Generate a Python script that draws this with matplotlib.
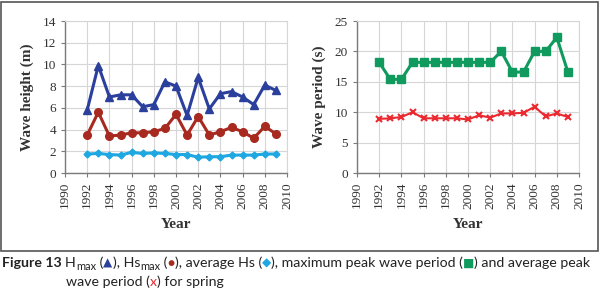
import matplotlib
matplotlib.use("Agg")
import matplotlib.pyplot as plt
from matplotlib.patches import Rectangle

years = list(range(1992, 2010))

# left panel: wave height (m)
h_max = [5.8, 9.9, 7.0, 7.2, 7.2, 6.1, 6.3, 8.4, 8.0, 5.3, 8.8, 5.9, 7.3, 7.5, 7.0, 6.3, 8.1, 7.6]
hs_max = [3.5, 5.6, 3.4, 3.5, 3.7, 3.7, 3.8, 4.1, 5.4, 3.5, 5.2, 3.5, 3.8, 4.2, 3.8, 3.2, 4.3, 3.6]
hs_avg = [1.75, 1.8, 1.7, 1.65, 1.9, 1.8, 1.85, 1.8, 1.7, 1.7, 1.45, 1.5, 1.5, 1.65, 1.65, 1.65, 1.75, 1.75]

# right panel: wave period (s)
tp_max = [18.2, 15.4, 15.4, 18.2, 18.2, 18.2, 18.2, 18.2, 18.2, 18.2, 18.2, 20.0, 16.6, 16.6, 20.0, 20.0, 22.3, 16.6]
tp_avg = [8.9, 9.0, 9.2, 10.0, 9.0, 9.0, 9.0, 9.0, 8.8, 9.5, 9.1, 9.8, 9.8, 9.9, 10.9, 9.3, 9.8, 9.2]

xticks = list(range(1990, 2011, 2))

c_blue = "#2b3f9c"
c_brown = "#a8291f"
c_cyan = "#1ea7e1"
c_green = "#109a5e"
c_red = "#ea2a30"

serif = "Liberation Serif"
fig = plt.figure(figsize=(6.02, 2.99), dpi=100)

W, H = 602.0, 299.0
ax1 = fig.add_axes([65 / W, 1 - 173 / H, 222 / W, 152 / H])
ax2 = fig.add_axes([357 / W, 1 - 173 / H, 222 / W, 152 / H])


def style(ax, ymax, ystep, ylabel):
    ax.set_xlim(1990, 2010)
    ax.set_ylim(0, ymax)
    ax.set_xticks(xticks)
    ax.set_yticks(range(0, ymax + 1, ystep))
    ax.grid(True, color="#d6d6d6", linewidth=0.8)
    ax.set_axisbelow(True)
    for s in ["top", "right"]:
        ax.spines[s].set_color("#d6d6d6")
        ax.spines[s].set_linewidth(0.8)
    for s in ["left", "bottom"]:
        ax.spines[s].set_color("#7a7a7a")
        ax.spines[s].set_linewidth(1.0)
    ax.tick_params(axis="both", length=3, color="#7a7a7a", labelsize=9.5,
                   labelcolor="#333333")
    ax.tick_params(axis="x", rotation=90)
    for lab in ax.get_xticklabels() + ax.get_yticklabels():
        lab.set_fontfamily(serif)
    ax.set_xlabel("Year", fontfamily=serif, fontweight="bold", fontsize=11,
                  color="#333333", labelpad=7)
    ax.set_ylabel(ylabel, fontfamily=serif, fontweight="bold", fontsize=11,
                  color="#333333", labelpad=6)


ax1.plot(years, h_max, color=c_blue, lw=2.2, marker="^", ms=5.5, clip_on=False)
ax1.plot(years, hs_max, color=c_brown, lw=2.2, marker="o", ms=5.5, clip_on=False)
ax1.plot(years, hs_avg, color=c_cyan, lw=2.2, marker="D", ms=3.5, clip_on=False)
style(ax1, 14, 2, "Wave height (m)")

ax2.plot(years, tp_max, color=c_green, lw=2.2, marker="s", ms=5.5, clip_on=False)
ax2.plot(years, tp_avg, color=c_red, lw=1.5, marker="x", ms=5, mew=1.5, clip_on=False)
style(ax2, 25, 5, "Wave period (s)")

# frame around both panels
fig.patches.append(Rectangle((1 / W, 1 - 251 / H), 597 / W, 249 / H,
                             transform=fig.transFigure, fill=False,
                             edgecolor="#555555", linewidth=1.2))

# caption, drawn piece by piece
fam = ["Lato", "DejaVu Sans"]
fs = 10.2
pieces1 = [
    ("Figure 13 ", "#222222", "bold"),
    ("H", "#222222", "normal"),
    ("max", "#222222", "sub"),
    (" (", "#222222", "normal"),
    ("▲", c_blue, "sym"),
    ("), Hs", "#222222", "normal"),
    ("max", "#222222", "sub"),
    (" (", "#222222", "normal"),
    ("●", c_brown, "sym"),
    ("), average Hs (", "#222222", "normal"),
    ("◆", c_cyan, "sym"),
    ("), maximum peak wave period (", "#222222", "normal"),
    ("■", c_green, "sym"),
    (") and average peak", "#222222", "normal"),
]
pieces2 = [
    ("wave period (", "#222222", "normal"),
    ("x", c_red, "normal"),
    (") for spring", "#222222", "normal"),
]

fig.canvas.draw()
renderer = fig.canvas.get_renderer()


def put_line(pieces, x0, ybase):
    x = x0
    for txt, col, kind in pieces:
        size = fs
        y = ybase
        weight = "normal"
        if kind == "bold":
            weight = "bold"
        if kind == "sub":
            size = fs * 0.78
            y = ybase + 3
        if kind == "sym":
            size = fs * 0.85
        t = fig.text(x / W, 1 - y / H, txt, color=col, fontsize=size,
                     fontweight=weight, family=fam, va="baseline", ha="left")
        bb = t.get_window_extent(renderer)
        x += bb.width


put_line(pieces1, 2, 267)
put_line(pieces2, 66, 286)

fig.savefig("out.png", dpi=100)
